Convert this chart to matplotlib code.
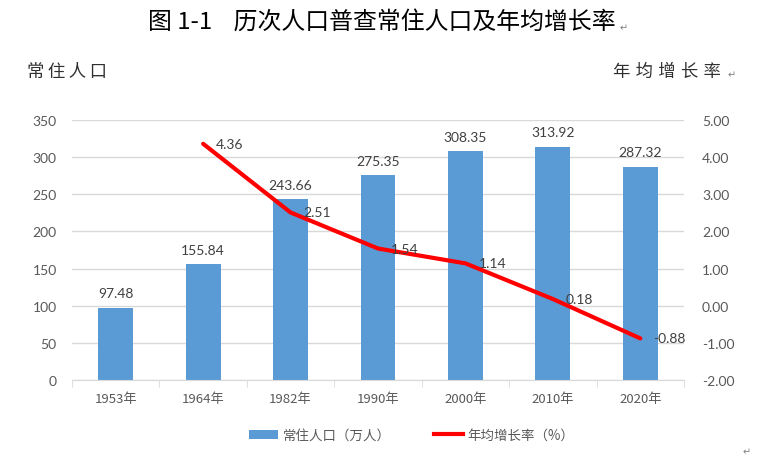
import matplotlib
matplotlib.use("Agg")
import matplotlib.pyplot as plt
from matplotlib.patches import Patch
from matplotlib.lines import Line2D

plt.rcParams['font.family'] = ['Noto Sans CJK SC', 'DejaVu Sans']

# data
years = ['1953年', '1964年', '1982年', '1990年', '2000年', '2010年', '2020年']
population = [97.48, 155.84, 243.66, 275.35, 308.35, 313.92, 287.32]
growth_years = [1, 2, 3, 4, 5, 6]
growth = [4.36, 2.51, 1.54, 1.14, 0.18, -0.88]

bar_color = '#5B9BD5'
line_color = '#FF0000'
grid_color = '#D9D9D9'
text_color = '#595959'
label_color = '#404040'
num_font = ['Lato', 'DejaVu Sans']

fig = plt.figure(figsize=(7.69, 4.64), dpi=100)
ax = fig.add_axes([0.0936, 0.1789, 0.7959, 0.5603])
ax2 = ax.twinx()

x = list(range(len(years)))
bars = ax.bar(x, population, width=0.4, color=bar_color, zorder=2)
ax.bar_label(bars, labels=[f'{v:.2f}' for v in population], padding=6,
             fontsize=10, color=label_color, family=num_font)

ax.set_xlim(-0.5, len(years) - 0.5)
ax.set_ylim(0, 350)
ax.set_yticks(range(0, 351, 50))
ax.yaxis.grid(True, color=grid_color, linewidth=1)
ax.set_axisbelow(True)
ax.set_xticks(x)
ax.set_xticklabels(years)
ax.set_xticks([i - 0.5 for i in range(len(years) + 1)], minor=True)
ax.tick_params(axis='x', which='major', length=0, pad=9, labelsize=9.5, labelcolor=text_color)
ax.tick_params(axis='x', which='minor', length=5, color=grid_color)
ax.tick_params(axis='y', length=0, pad=11, labelsize=10, labelcolor=text_color)
for s in ['top', 'left', 'right']:
    ax.spines[s].set_visible(False)
    ax2.spines[s].set_visible(False)
ax.spines['bottom'].set_color(grid_color)
ax2.spines['bottom'].set_visible(False)
for lab in ax.get_yticklabels():
    lab.set_family(num_font)

ax2.plot(growth_years, growth, color=line_color, linewidth=3, solid_capstyle='round', zorder=3)
ax2.set_ylim(-2, 5)
ax2.set_yticks(range(-2, 6))
ax2.set_yticklabels([f'{v:.2f}' for v in range(-2, 6)], family=num_font)
ax2.tick_params(axis='y', length=0, pad=13, labelsize=10, labelcolor=text_color)
for xi, v in zip(growth_years, growth):
    ax2.annotate(f'{v:.2f}', (xi, v), xytext=(13, 0), textcoords='offset pixels',
                 ha='left', va='center', fontsize=10, color=label_color, family=num_font)

# titles
fig.text(0.497, 0.952, '图 1-1    历次人口普查常住人口及年均增长率', ha='center', va='center',
         fontsize=17.2, color='black', fontweight='medium')
fig.text(0.806, 0.94, '↵', ha='left', va='center', fontsize=7, color='#808080')
fig.text(0.035, 0.845, '常\u2009住\u2009人\u2009口', ha='left', va='center', fontsize=12.5,
         color='#303030', fontweight='light')
fig.text(0.797, 0.845, '年\u2009\u200a均\u2009\u200a增\u2009\u200a长\u2009\u200a率', ha='left', va='center',
         fontsize=12.5, color='#303030', fontweight='light')
fig.text(0.946, 0.838, '↵', ha='left', va='center', fontsize=7, color='#808080')
fig.text(0.965, 0.025, '↵', ha='left', va='center', fontsize=7, color='#808080')

handles = [Patch(facecolor=bar_color), Line2D([0], [0], color=line_color, linewidth=3)]
fig.legend(handles, ['常住人口（万人）', '年均增长率（%）'], loc='center',
           bbox_to_anchor=(0.535, 0.06), ncol=2, frameon=False, fontsize=9.7,
           labelcolor=text_color, handlelength=2.2, handleheight=0.7,
           columnspacing=3.2, handletextpad=0.3)

fig.savefig('out.png', dpi=100)
